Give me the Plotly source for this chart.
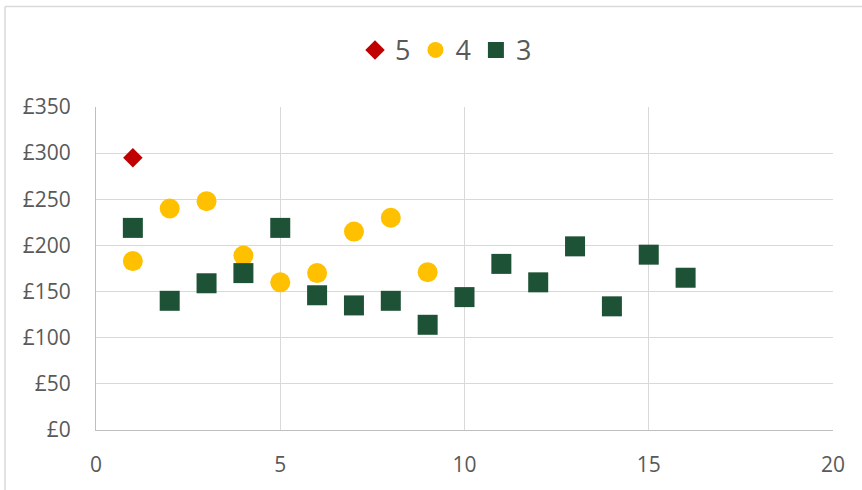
import plotly.graph_objects as go

# Data
s5_x = [1]
s5_y = [295]
s4_x = [1, 2, 3, 4, 5, 6, 7, 8, 9]
s4_y = [183, 240, 248, 189, 160, 170, 215, 230, 171]
s3_x = [1, 2, 3, 4, 5, 6, 7, 8, 9, 10, 11, 12, 13, 14, 15, 16]
s3_y = [219, 140, 159, 170, 219, 146, 135, 140, 114, 144, 180, 160, 199, 134, 190, 165]

FONT = "Open Sans"
TXT = "#595959"
GRID = "#d9d9d9"

fig = go.Figure()
fig.add_trace(go.Scatter(x=s5_x, y=s5_y, mode="markers", name="5",
                         marker=dict(symbol="diamond", size=15, color="#C00000", line=dict(width=0))))
fig.add_trace(go.Scatter(x=s4_x, y=s4_y, mode="markers", name="4",
                         marker=dict(symbol="circle", size=20, color="#FFC000", line=dict(width=0))))
fig.add_trace(go.Scatter(x=s3_x, y=s3_y, mode="markers", name="3",
                         marker=dict(symbol="square", size=20, color="#1D5236", line=dict(width=0))))

L, R, T, B = 96, 29, 107, 58
W, H = 862, 490
pw = W - L - R
ph = H - T - B

fig.update_layout(
    width=W, height=H,
    margin=dict(l=L, r=R, t=T, b=B),
    paper_bgcolor="white", plot_bgcolor="white",
    font=dict(family=FONT, color=TXT, size=21),
    showlegend=True,
    legend=dict(orientation="h", x=(446 - L) / pw, xanchor="center",
                y=(H - B - 50) / ph, yanchor="middle",
                font=dict(size=27, color=TXT), itemsizing="trace",
                bgcolor="rgba(0,0,0,0)"),
    xaxis=dict(range=[0, 20], tickvals=[0, 5, 10, 15, 20], showgrid=True, gridcolor=GRID,
               gridwidth=1, zeroline=False, showline=True, linecolor="#bfbfbf", linewidth=1,
               ticks="", ticklabelstandoff=16, tickfont=dict(size=21, color=TXT)),
    yaxis=dict(range=[0, 350], tickvals=[0, 50, 100, 150, 200, 250, 300, 350],
               ticktext=["£0", "£50", "£100", "£150", "£200", "£250", "£300", "£350"],
               showgrid=True, gridcolor=GRID, gridwidth=1, zeroline=False,
               showline=True, linecolor="#bfbfbf", linewidth=1,
               ticks="", ticklabelstandoff=20, tickfont=dict(size=21, color=TXT)),
)

# chart border (top and left), as in the reference crop
bx = (5 - L) / pw
by = (H - B - 6) / ph
fig.add_shape(type="line", xref="paper", yref="paper", x0=bx, x1=bx, y0=-0.3, y1=by,
              line=dict(color="#d9d9d9", width=1.5))
fig.add_shape(type="line", xref="paper", yref="paper", x0=bx, x1=1.2, y0=by, y1=by,
              line=dict(color="#d9d9d9", width=1.5))

fig.write_html("out.html", config={"displayModeBar": False},
               post_script="document.body.style.margin='0px';")
